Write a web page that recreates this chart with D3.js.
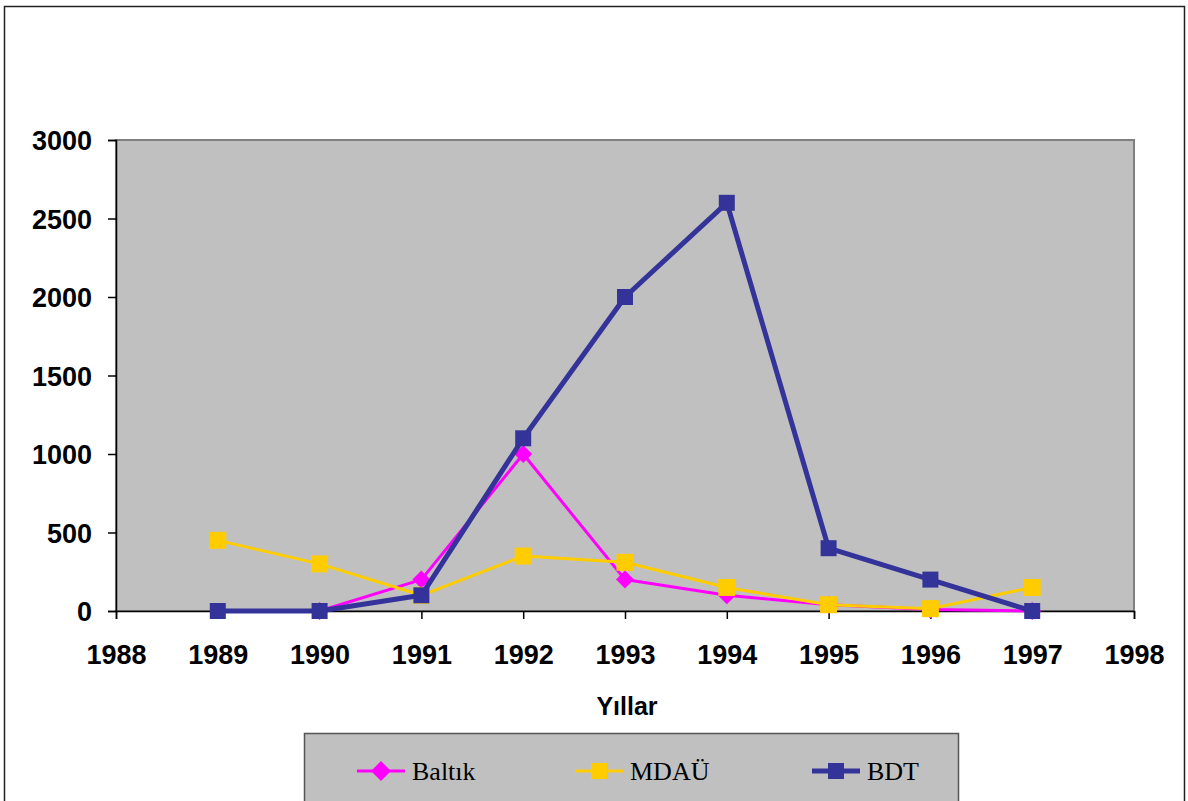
<!DOCTYPE html>
<html>
<head>
<meta charset="utf-8">
<script src="https://cdn.jsdelivr.net/npm/d3@7"></script>
<style>
  body { margin: 0; background: #fff; }
  svg { display: block; }
</style>
</head>
<body>
<div id="chart"></div>
<script>
var years = [1989, 1990, 1991, 1992, 1993, 1994, 1995, 1996, 1997]
var baltik = [null, 0, 200, 1000, 200, 100, 40, 10, 0]
var mdau = [450, 300, 100, 350, 310, 150, 40, 15, 150]
var bdt = [0, 0, 100, 1100, 2000, 2600, 400, 200, 0]
var yTicks = [0, 500, 1000, 1500, 2000, 2500, 3000]
var xTicks = [1988, 1989, 1990, 1991, 1992, 1993, 1994, 1995, 1996, 1997, 1998]

var series = [
  { name: 'Baltık', values: baltik, color: '#ff00ff', width: 3, shape: 'diamond', size: 9 },
  { name: 'MDAÜ', values: mdau, color: '#ffcc00', width: 3, shape: 'square', size: 8.5 },
  { name: 'BDT', values: bdt, color: '#333399', width: 5, shape: 'square', size: 8 }
]

var W = 1188, H = 801
var plot = { left: 116, right: 1134, top: 140, bottom: 611 }

var svg = d3.select('#chart').append('svg')
  .attr('width', W)
  .attr('height', H)

// outer frame
svg.append('rect')
  .attr('x', 4.5).attr('y', 6.5)
  .attr('width', 1180).attr('height', 820)
  .attr('fill', '#fff')
  .attr('stroke', '#222').attr('stroke-width', 1.5)

var x = d3.scaleLinear().domain([1988, 1998]).range([plot.left, plot.right])
var y = d3.scaleLinear().domain([0, 3000]).range([plot.bottom, plot.top])

// plot area
svg.append('rect')
  .attr('x', plot.left).attr('y', plot.top)
  .attr('width', plot.right - plot.left).attr('height', plot.bottom - plot.top)
  .attr('fill', '#c0c0c0')
  .attr('stroke', '#808080').attr('stroke-width', 2)

var yAxis = svg.append('g')
  .attr('transform', 'translate(' + plot.left + ',0)')
  .call(d3.axisLeft(y).tickValues(yTicks).tickSize(8).tickPadding(16).tickFormat(d3.format('d')))
var xAxis = svg.append('g')
  .attr('transform', 'translate(0,' + plot.bottom + ')')
  .call(d3.axisBottom(x).tickValues(xTicks).tickSize(8).tickPadding(26).tickFormat(d3.format('d')))

svg.selectAll('.domain').attr('stroke', '#000').attr('stroke-width', 1.5)
svg.selectAll('.tick line').attr('stroke', '#000').attr('stroke-width', 1.5)
svg.selectAll('.tick text')
  .attr('fill', '#000')
  .style('font-family', '"Liberation Sans", Arial, sans-serif')
  .style('font-weight', 'bold')
  .style('font-size', '27px')
yAxis.selectAll('.tick text').attr('dy', '0.36em')

svg.append('text')
  .attr('x', 627).attr('y', 715)
  .attr('text-anchor', 'middle')
  .style('font-family', '"Liberation Sans", Arial, sans-serif')
  .style('font-weight', 'bold')
  .style('font-size', '25px')
  .text('Yıllar')

function markerPath(shape, s) {
  if (shape == 'diamond') return 'M0,' + (-s) + 'L' + s + ',0L0,' + s + 'L' + (-s) + ',0Z'
  return 'M' + (-s) + ',' + (-s) + 'H' + s + 'V' + s + 'H' + (-s) + 'Z'
}

var line = d3.line()
  .defined(function(d) { return d.v != null })
  .x(function(d) { return x(d.year) })
  .y(function(d) { return y(d.v) })

series.forEach(function(s) {
  var pts = years.map(function(yr, i) { return { year: yr, v: s.values[i] } })
  svg.append('path')
    .datum(pts)
    .attr('d', line)
    .attr('fill', 'none')
    .attr('stroke', s.color)
    .attr('stroke-width', s.width)
    .attr('stroke-linejoin', 'round')
  svg.selectAll(null)
    .data(pts.filter(function(d) { return d.v != null }))
    .enter().append('path')
    .attr('d', markerPath(s.shape, s.size))
    .attr('transform', function(d) { return 'translate(' + x(d.year) + ',' + y(d.v) + ')' })
    .attr('fill', s.color)
})

// legend
svg.append('rect')
  .attr('x', 304.5).attr('y', 733.5)
  .attr('width', 654).attr('height', 90)
  .attr('fill', '#c0c0c0')
  .attr('stroke', '#555').attr('stroke-width', 1.5)

var legX = [357, 575, 812]
series.forEach(function(s, i) {
  var g = svg.append('g').attr('transform', 'translate(' + legX[i] + ',771)')
  g.append('line')
    .attr('x1', 0).attr('x2', 48)
    .attr('stroke', s.color).attr('stroke-width', s.width)
  g.append('path')
    .attr('d', markerPath(s.shape, s.shape == 'diamond' ? 10 : 8))
    .attr('transform', 'translate(24,0)')
    .attr('fill', s.color)
  g.append('text')
    .attr('x', 55).attr('y', 0).attr('dy', '0.35em')
    .style('font-family', '"Liberation Serif", "Times New Roman", serif')
    .style('font-size', '26px')
    .text(s.name)
})
</script>
</body>
</html>
